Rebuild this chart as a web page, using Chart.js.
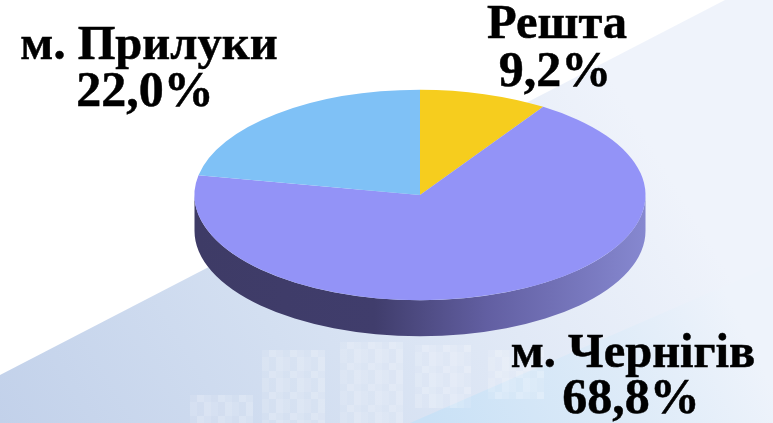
<!DOCTYPE html>
<html>
<head>
<meta charset="utf-8">
<style>
  html, body { margin: 0; padding: 0; background: #fff; overflow: hidden; }
  canvas { display: block; }
</style>
<script src="https://cdn.jsdelivr.net/npm/chart.js@4"></script>
</head>
<body>
<canvas id="chart" width="773" height="423"></canvas>
<script>
const categories = ['Решта', 'м. Чернігів', 'м. Прилуки'];
const shares = [9.2, 68.8, 22.0];
const sliceColors = ['#f6cd1e', '#9393f7', '#7fc1f6'];

// where each label goes: [centre x of name, baseline of name, centre x of value, baseline of value]
const labelSpots = [
  [557, 38, 555, 86],
  [633, 367, 631, 413],
  [149, 59, 145, 106]
];

const squash = 105 / 225;
const depth = 36;
const centerY = 195;

// backdrop: pale diagonal panel and the faded blocks at the bottom
const backdrop = {
  id: 'backdrop',
  beforeDraw(chart) {
    const { ctx, width, height } = chart;
    ctx.save();
    ctx.fillStyle = '#fff';
    ctx.fillRect(0, 0, width, height);

    const g = ctx.createLinearGradient(0, 423, 600, 60);
    g.addColorStop(0, '#c2d1ea');
    g.addColorStop(0.4, '#d3dff1');
    g.addColorStop(1, '#eff3fb');
    ctx.fillStyle = g;
    ctx.beginPath();
    ctx.moveTo(0, 375);
    ctx.lineTo(725, 0);
    ctx.lineTo(773, 0);
    ctx.lineTo(773, 423);
    ctx.lineTo(0, 423);
    ctx.closePath();
    ctx.fill();

    const g2 = ctx.createLinearGradient(430, 423, 720, 280);
    g2.addColorStop(0, '#c9e1f6');
    g2.addColorStop(0.6, '#deebf8');
    g2.addColorStop(1, '#eef3fb');
    ctx.fillStyle = g2;
    ctx.beginPath();
    ctx.moveTo(410, 423);
    ctx.lineTo(773, 265);
    ctx.lineTo(773, 423);
    ctx.closePath();
    ctx.fill();

    // blocks made of small cells, lighter in a repeating pattern
    [[190, 395, 60, 28], [262, 350, 60, 73], [340, 342, 60, 81], [415, 345, 55, 60], [488, 350, 50, 45]].forEach(b => {
      for (let col = 0; col * 7 < b[2]; col++) {
        for (let row = 0; row * 7 < b[3]; row++) {
          ctx.fillStyle = 'rgba(255,255,255,' + (0.1 + ((col * 2 + row * row) % 3) * 0.08) + ')';
          ctx.fillRect(b[0] + col * 7, b[1] + row * 7, 7, 7);
        }
      }
    });
    ctx.restore();
  }
};

// squashes the round pie to an ellipse and puts the wall under it
const tilt = {
  id: 'tilt',
  beforeDatasetsDraw(chart) {
    const { ctx } = chart;
    const arcs = chart.getDatasetMeta(0).data;
    const cx = arcs[0].x, r = arcs[0].outerRadius;
    const wall = ctx.createLinearGradient(cx - r, 0, cx + r, 0);
    wall.addColorStop(0, '#3e3b66');
    wall.addColorStop(0.4, '#403d6c');
    wall.addColorStop(0.65, '#625fa2');
    wall.addColorStop(1, '#8688d0');

    ctx.save();
    ctx.fillStyle = wall;
    arcs.forEach(a => {
      const from = Math.max(a.startAngle, 0);
      const to = Math.min(a.endAngle, Math.PI);
      if (to <= from) return;
      ctx.beginPath();
      ctx.ellipse(cx, centerY, r, r * squash, 0, from, to);
      ctx.ellipse(cx, centerY + depth, r, r * squash, 0, to, from, true);
      ctx.closePath();
      ctx.fill();
    });
    ctx.restore();

    ctx.save();
    ctx.translate(0, centerY);
    ctx.scale(1, squash);
    ctx.translate(0, -centerY);
  },
  afterDatasetsDraw(chart) {
    chart.ctx.restore();
  },
  afterDraw(chart) {
    const { ctx } = chart;
    ctx.save();
    ctx.fillStyle = '#000';
    ctx.strokeStyle = '#000';
    ctx.lineWidth = 0.5;
    ctx.textAlign = 'center';
    ctx.textBaseline = 'alphabetic';
    categories.forEach((name, i) => {
      const s = labelSpots[i];
      const value = shares[i].toFixed(1).replace('.', ',') + '%';
      ctx.font = 'bold 48.5px "Liberation Serif"';
      ctx.fillText(name, s[0], s[1]);
      ctx.strokeText(name, s[0], s[1]);
      ctx.font = 'bold 50px "Liberation Serif"';
      ctx.fillText(value, s[2], s[3]);
      ctx.strokeText(value, s[2], s[3]);
    });
    ctx.restore();
  }
};

new Chart(document.getElementById('chart'), {
  type: 'pie',
  data: {
    labels: categories,
    datasets: [{
      data: shares,
      backgroundColor: sliceColors,
      borderWidth: 0,
      radius: 225.5,
      clip: false
    }]
  },
  options: {
    responsive: false,
    animation: false,
    layout: { padding: { left: 195, right: 128, top: 0, bottom: 33 } },
    plugins: { legend: { display: false }, tooltip: { enabled: false } },
    events: []
  },
  plugins: [backdrop, tilt]
});
</script>
</body>
</html>
